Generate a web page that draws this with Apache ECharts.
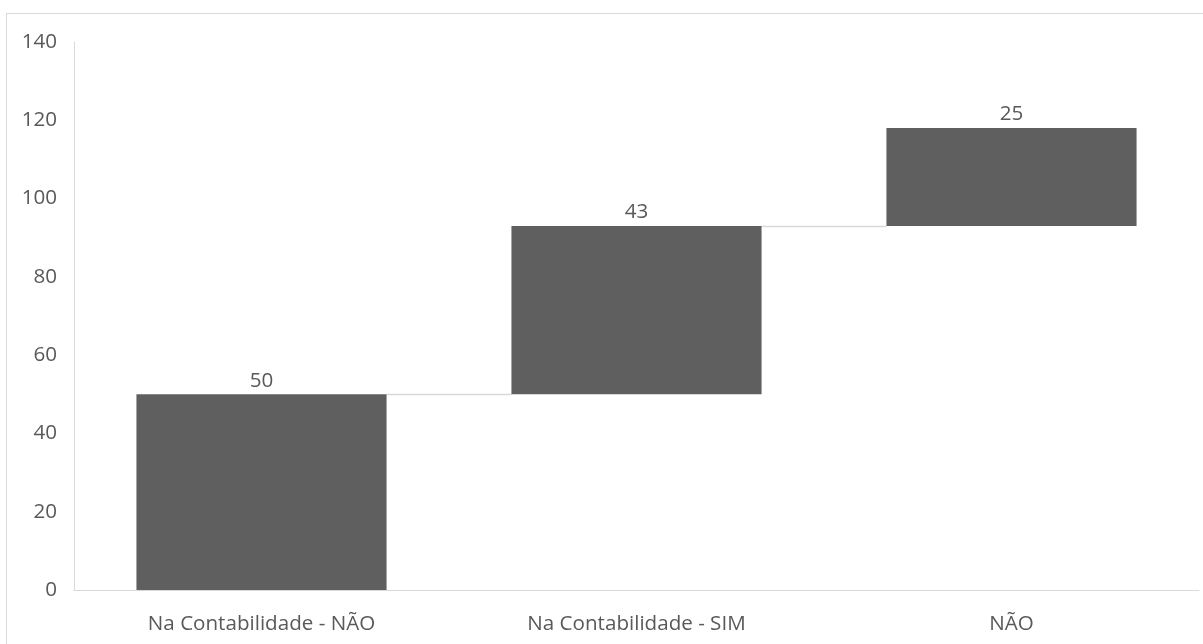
<!DOCTYPE html>
<html>
<head>
<meta charset="utf-8">
<style>
  html, body { margin: 0; padding: 0; background: #fff; }
  #frame { position: absolute; left: 6px; top: 13px; right: 0; bottom: 0;
           border-top: 1px solid #d9d9d9; border-left: 1px solid #d9d9d9; }
  #chart { position: absolute; left: 0; top: 0; width: 1203px; height: 644px; }
</style>
<script src="https://cdn.jsdelivr.net/npm/echarts@6/dist/echarts.min.js"></script>
</head>
<body>
<div id="frame"></div>
<div id="chart"></div>
<script>
// Waterfall steps
const categories = ['Na Contabilidade - NÃO', 'Na Contabilidade - SIM', 'NÃO'];
const stepValues = [50, 43, 25];
const yTicks = [0, 20, 40, 60, 80, 100, 120, 140];

// Invisible base for each step = running total before it
const bases = [];
const tops = [];
let running = 0;
stepValues.forEach(v => { bases.push(running); running += v; tops.push(running); });

const font = 'Open Sans';
const fontSize = 20.6;
const textColor = '#595959';
const barColor = '#5f5f5f';

const chart = echarts.init(document.getElementById('chart'), null, { renderer: 'canvas' });
chart.setOption({
  animation: false,
  grid: { left: 74, right: 4, top: 42, bottom: 54 },
  xAxis: {
    type: 'category',
    data: categories,
    axisLine: { show: true, lineStyle: { color: '#d9d9d9', width: 1 } },
    axisTick: { show: false },
    axisLabel: { color: textColor, fontFamily: font, fontSize: fontSize, margin: 24 }
  },
  yAxis: {
    type: 'value',
    min: yTicks[0],
    max: yTicks[yTicks.length - 1],
    interval: 20,
    axisLine: { show: true, lineStyle: { color: '#d9d9d9', width: 1 } },
    axisTick: { show: false },
    splitLine: { show: false },
    axisLabel: { color: textColor, fontFamily: font, fontSize: fontSize, margin: 17, padding: [6, 0, 0, 0] }
  },
  series: [
    {
      name: 'base',
      type: 'bar',
      stack: 'wf',
      data: bases,
      barWidth: '66.7%',
      itemStyle: { color: 'transparent' },
      silent: true
    },
    {
      name: 'step',
      type: 'bar',
      stack: 'wf',
      data: stepValues,
      barWidth: '66.7%',
      itemStyle: { color: barColor },
      label: {
        show: true, position: 'top', distance: 3,
        color: textColor, fontFamily: font, fontSize: fontSize
      }
    },
    {
      // connectors from the top of one step to the start of the next
      name: 'connector',
      type: 'custom',
      silent: true,
      z: 1,
      data: tops.slice(0, -1).map((t, i) => [i, t]),
      renderItem: function (params, api) {
        const i = api.value(0);
        const level = api.value(1);
        const band = api.size([1, 0])[0];
        const half = band * 0.667 / 2;
        const p1 = api.coord([i, level]);
        const p2 = api.coord([i + 1, level]);
        const y = Math.round(p1[1]) + 0.5;
        return {
          type: 'line',
          shape: { x1: p1[0] + half, y1: y, x2: p2[0] - half, y2: y },
          style: { stroke: '#d9d9d9', lineWidth: 1.5 }
        };
      }
    }
  ]
});
</script>
</body>
</html>
